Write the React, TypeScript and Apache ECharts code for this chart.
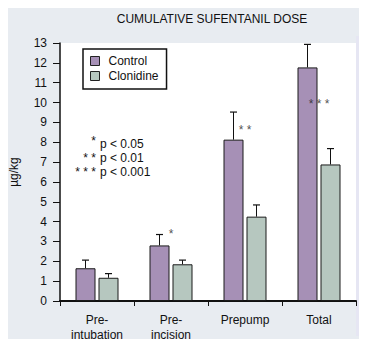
import React, { useEffect, useRef } from "react";
import * as echarts from "echarts";

const categories = ["Pre-\nintubation", "Pre-\nincision", "Prepump", "Total"];
const controlValues = [1.65, 2.8, 8.13, 11.77];
const controlErrTop = [2.06, 3.35, 9.52, 12.93];
const clonidineValues = [1.17, 1.85, 4.25, 6.88];
const clonidineErrTop = [1.38, 2.06, 4.84, 7.68];
const sigLabels = ["", "*", "* *", "* * *"];
const sigValues = [0, 3.4, 8.6, 9.95];
const pLabelStars = ["*", "* *", "* * *"];
const pLabelTexts = ["p < 0.05", "p < 0.01", "p < 0.001"];
const yTicks = { min: 0, max: 13, interval: 1 };

const FONT = "'Liberation Sans', Arial, Helvetica, sans-serif";
const BAR_W = 20;
const BAR_OFF = 11.5;

export default function App() {
  const ref = useRef<HTMLDivElement>(null);
  useEffect(() => {
    if (!ref.current) return;
    const chart = echarts.init(ref.current, null, { renderer: "svg" });

    const errSeries = (tops: number[], vals: number[], dir: number) => ({
      type: "custom",
      z: 5,
      data: tops.map((t, i) => [i, vals[i], t]),
      renderItem: (params: any, api: any) => {
        const i = api.value(0);
        const base = api.coord([i, api.value(1)]);
        const top = api.coord([i, api.value(2)]);
        const x = base[0] + dir * BAR_OFF;
        return {
          type: "group",
          children: [
            { type: "line", shape: { x1: x, y1: base[1], x2: x, y2: top[1] }, style: { stroke: "#111", lineWidth: 1 } },
            { type: "line", shape: { x1: x - 3.5, y1: top[1], x2: x + 3.5, y2: top[1] }, style: { stroke: "#111", lineWidth: 1.2 } },
          ],
        };
      },
    });

    const graphics: any[] = [
      {
        type: "rect",
        z: -10,
        silent: true,
        shape: { x: 1, y: 1, width: 365, height: 345, r: 10 },
        style: { fill: "#e8ecf1", stroke: "#3c3c3c", lineWidth: 1.5 },
      },
      {
        type: "rect",
        z: -9,
        silent: true,
        shape: { x: 356, y: 36, width: 7, height: 300 },
        style: { fill: "#e6e6f3" },
      },
    ];
    pLabelStars.forEach((s, k) => {
      graphics.push({
        type: "text",
        x: 96,
        y: 144 + k * 14 - (k === 0 ? 3 : 0),
        style: { text: s, font: `12px ${FONT}`, fill: "#111", align: "right", verticalAlign: "middle" },
      });
      graphics.push({
        type: "text",
        x: 100,
        y: 144 + k * 14,
        style: { text: pLabelTexts[k], font: `12px ${FONT}`, fill: "#111", align: "left", verticalAlign: "middle" },
      });
    });

    chart.setOption({
      animation: false,
      textStyle: { fontFamily: FONT },
      title: {
        text: "CUMULATIVE SUFENTANIL DOSE",
        left: 207,
        textAlign: "center",
        top: 8,
        textStyle: { fontSize: 12, fontWeight: "normal", color: "#111", fontFamily: FONT },
      },
      legend: {
        data: ["Control", "Clonidine"],
        orient: "vertical",
        left: 83,
        top: 49,
        backgroundColor: "#fff",
        borderColor: "#111",
        borderWidth: 1.5,
        padding: [5, 8, 6, 7],
        itemWidth: 9,
        itemHeight: 9,
        itemGap: 1,
        icon: "rect",
        itemStyle: { borderColor: "#222", borderWidth: 1 },
        textStyle: { fontSize: 12, color: "#111", fontFamily: FONT, lineHeight: 14, padding: [0, 0, 0, 4] },
      },
      graphic: graphics,
      grid: {
        left: 58,
        right: 11,
        top: 43,
        bottom: 46,
        show: true,
        backgroundColor: "#fff",
        borderWidth: 0,
      },
      xAxis: {
        type: "category",
        data: categories,
        boundaryGap: true,
        axisLine: { lineStyle: { color: "#111", width: 2 } },
        axisTick: { show: true, length: 5, lineStyle: { color: "#111", width: 1 } },
        axisLabel: { fontSize: 12, color: "#111", lineHeight: 14.5, margin: 12, fontFamily: FONT },
      },
      yAxis: {
        type: "value",
        min: yTicks.min,
        max: yTicks.max,
        interval: yTicks.interval,
        name: "µg/kg",
        nameLocation: "middle",
        nameGap: 40,
        nameTextStyle: { fontSize: 12, color: "#111", fontFamily: FONT },
        splitLine: { show: false },
        axisLine: { show: true, lineStyle: { color: "#111", width: 1.5 } },
        axisTick: { show: true, length: 7, lineStyle: { color: "#111", width: 1 } },
        axisLabel: { fontSize: 12, color: "#111", margin: 13, fontFamily: FONT },
      },
      series: [
        {
          name: "Control",
          type: "bar",
          data: controlValues,
          barWidth: BAR_W,
          barGap: "15%",
          itemStyle: { color: "#a690b6", borderColor: "#1a1a1a", borderWidth: 1 },
        },
        {
          name: "Clonidine",
          type: "bar",
          data: clonidineValues,
          barWidth: BAR_W,
          itemStyle: { color: "#b6c7bf", borderColor: "#1a1a1a", borderWidth: 1 },
        },
        errSeries(controlErrTop, controlValues, -1),
        errSeries(clonidineErrTop, clonidineValues, 1),
        {
          type: "scatter",
          symbolSize: 0,
          z: 6,
          data: sigValues.map((v, i) => [i, v]),
          label: {
            show: true,
            position: "inside",
            formatter: (p: any) => sigLabels[p.dataIndex],
            fontSize: 12,
            color: "#222",
            fontFamily: FONT,
          },
        },
      ],
    });
    return () => chart.dispose();
  }, []);
  return <div ref={ref} style={{ width: 367, height: 347, margin: -8 }} />;
}
